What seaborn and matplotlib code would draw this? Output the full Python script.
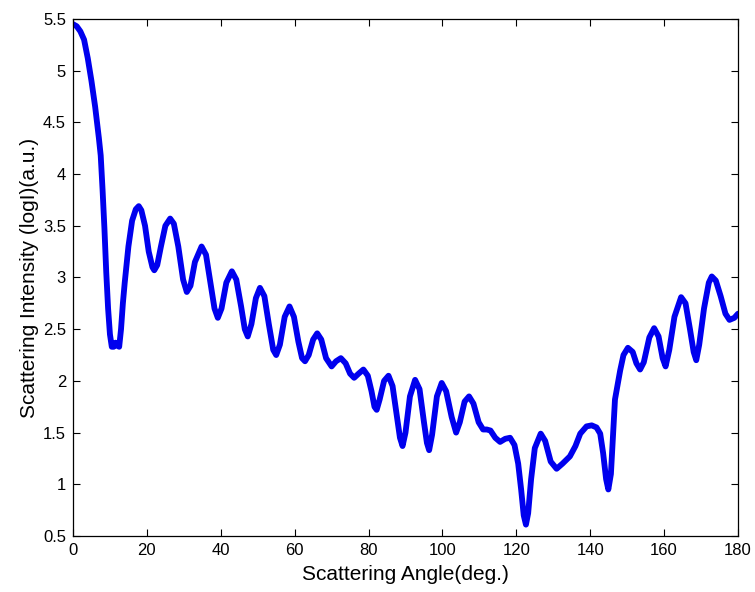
import numpy as np
import pandas as pd
from matplotlib import pyplot as plt
import seaborn as sns

# values
angle = [0, 1, 2, 3, 4, 5, 6, 7, 7.5, 8, 8.5, 9, 9.5, 10, 10.5, 11, 11.5, 12, 12.5,
         13, 13.5, 14, 15, 16, 17, 17.8, 18.5, 19.5, 20.5, 21.5, 22, 22.8, 23.8, 25,
         26.3, 27.3, 28.5, 29.8, 30.8, 31.8, 33, 34.8, 36, 37.2, 38.3, 39.2, 40.2,
         41.5, 43, 44.2, 45.5, 46.5, 47.3, 48.3, 49.5, 50.6, 51.8, 53, 54.2, 55, 56,
         57.3, 58.6, 59.8, 61, 62, 62.8, 63.8, 65, 66.1, 67.2, 68.5, 70, 71.2, 72.5,
         73.8, 75, 76.1, 77.3, 78.6, 79.8, 80.8, 81.6, 82.2, 83, 84.2, 85.4, 86.5,
         87.5, 88.5, 89.2, 90, 91.2, 92.6, 93.8, 95, 95.8, 96.4, 97.2, 98.5, 99.8,
         101, 102.5, 103.7, 104.7, 106, 107.2, 108.4, 109.8, 111, 112, 113, 114.3,
         115.6, 117, 118.3, 119.5, 120.5, 121.3, 122, 122.6, 123.2, 124, 125, 126.6,
         127.8, 129.3, 130.9, 132.5, 134.5, 136, 137.3, 139, 140.4, 141.7, 142.7,
         143.5, 144.3, 144.9, 145.6, 146.2, 146.7, 148.1, 149, 150.2, 151.5, 152.5,
         153.5, 154.5, 156, 157.3, 158.5, 159.6, 160.4, 161.4, 162.8, 164.6, 165.8,
         167, 168, 168.7, 169.5, 170.8, 172.1, 172.9, 174, 175.3, 176.6, 177.7, 179,
         180]
intensity = [5.45, 5.43, 5.38, 5.30, 5.12, 4.90, 4.65, 4.35, 4.18, 3.85, 3.48, 3.05,
             2.70, 2.45, 2.33, 2.33, 2.37, 2.34, 2.33, 2.50, 2.75, 2.95, 3.30, 3.55,
             3.66, 3.69, 3.65, 3.50, 3.25, 3.10, 3.07, 3.12, 3.30, 3.50, 3.57, 3.52,
             3.30, 2.98, 2.86, 2.92, 3.15, 3.30, 3.22, 2.95, 2.70, 2.61, 2.70, 2.95,
             3.06, 2.98, 2.72, 2.50, 2.43, 2.55, 2.80, 2.90, 2.82, 2.55, 2.30, 2.25,
             2.35, 2.62, 2.72, 2.62, 2.38, 2.22, 2.19, 2.25, 2.40, 2.46, 2.40, 2.22,
             2.14, 2.19, 2.22, 2.17, 2.07, 2.03, 2.07, 2.11, 2.05, 1.90, 1.75, 1.72,
             1.82, 2.00, 2.05, 1.95, 1.70, 1.45, 1.37, 1.50, 1.85, 2.01, 1.92, 1.60,
             1.40, 1.33, 1.48, 1.85, 1.98, 1.90, 1.65, 1.50, 1.60, 1.80, 1.85, 1.78,
             1.60, 1.53, 1.53, 1.52, 1.45, 1.41, 1.44, 1.45, 1.38, 1.20, 0.95, 0.70,
             0.61, 0.72, 1.05, 1.35, 1.49, 1.42, 1.22, 1.15, 1.20, 1.27, 1.37, 1.49,
             1.56, 1.57, 1.55, 1.49, 1.30, 1.05, 0.95, 1.10, 1.50, 1.82, 2.10, 2.25,
             2.32, 2.28, 2.17, 2.11, 2.18, 2.42, 2.51, 2.43, 2.22, 2.14, 2.30, 2.62,
             2.81, 2.75, 2.50, 2.28, 2.20, 2.35, 2.70, 2.95, 3.01, 2.97, 2.82, 2.65,
             2.59, 2.61, 2.65]
x_ticks = [0, 20, 40, 60, 80, 100, 120, 140, 160, 180]
y_ticks = [0.5, 1, 1.5, 2, 2.5, 3, 3.5, 4, 4.5, 5, 5.5]
y_tick_labels = ['0.5', '1', '1.5', '2', '2.5', '3', '3.5', '4', '4.5', '5', '5.5']

df = pd.DataFrame({'angle': angle, 'intensity': intensity})

sns.set_style('ticks')
plt.rcParams['font.family'] = ['Liberation Sans', 'DejaVu Sans']
plt.rcParams['text.color'] = 'black'
plt.rcParams['axes.labelcolor'] = 'black'

fig = plt.figure(figsize=(7.55, 5.92), dpi=100)
ax = fig.add_axes([73/755, 1-536/592, 665/755, 517/592])

sns.lineplot(data=df, x='angle', y='intensity', color='#0000ee', linewidth=4.2,
             estimator=None, sort=False, ax=ax)

ax.set_xlim(0, 180)
ax.set_ylim(0.5, 5.5)
ax.set_xticks(x_ticks)
ax.set_yticks(y_ticks)
ax.set_yticklabels(y_tick_labels)
ax.tick_params(direction='in', length=5, width=0.8, top=True, right=True,
               labelsize=12, colors='black', pad=5)
for s in ax.spines.values():
    s.set_color('black')
    s.set_linewidth(0.9)

ax.set_xlabel('Scattering Angle(deg.)', fontsize=15, labelpad=5)
ax.set_ylabel('Scattering Intensity (logI)(a.u.)', fontsize=15, labelpad=3)

fig.savefig('out.png', dpi=100)
